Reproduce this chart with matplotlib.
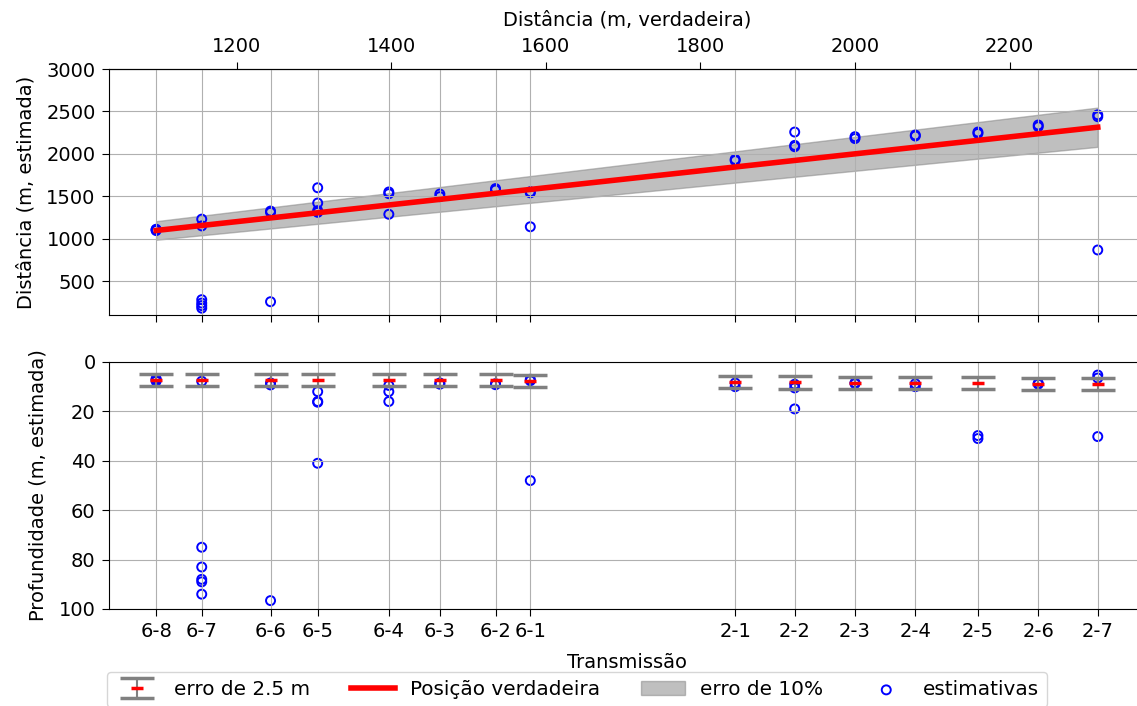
import numpy as np
import matplotlib
matplotlib.use("Agg")
import matplotlib.pyplot as plt

plt.rcParams['font.size'] = 14
plt.rcParams['xtick.major.size'] = 4.7
plt.rcParams['ytick.major.size'] = 4.7
plt.rcParams['xtick.major.pad'] = 5
plt.rcParams['ytick.major.pad'] = 5
plt.rcParams['axes.labelpad'] = 8

# transmissoes e distancias verdadeiras (m)
transmissoes = ['6-8', '6-7', '6-6', '6-5', '6-4', '6-3', '6-2', '6-1',
                '2-1', '2-2', '2-3', '2-4', '2-5', '2-6', '2-7']
dist_verdadeira = [1096, 1155, 1244, 1305, 1397, 1463, 1535, 1580,
                   1845, 1922, 2000, 2078, 2159, 2237, 2314]
prof_verdadeira = [7.3, 7.3, 7.3, 7.3, 7.3, 7.3, 7.3, 7.6,
                   8.2, 8.3, 8.5, 8.5, 8.5, 8.8, 9.0]
ticks_topo = [1200, 1400, 1600, 1800, 2000, 2200]

# estimativas por transmissao (distancia, profundidade)
est_dist = [
    [1095, 1105, 1110],
    [1230, 1150, 280, 240, 210, 180],
    [1310, 1325, 256],
    [1600, 1420, 1330, 1310],
    [1530, 1550, 1287],
    [1526, 1495],
    [1573, 1590],
    [1553, 1540, 1140],
    [1935, 1920],
    [2257, 2084, 2100],
    [2202, 2180],
    [2222, 2210],
    [2257, 2240],
    [2340, 2320],
    [2438, 2460, 866],
]
est_prof = [
    [6.8, 7.2, 7.8],
    [7.8, 75.0, 83.0, 88.0, 89.0, 94.0],
    [8.5, 9.3, 96.6],
    [12.0, 16.0, 16.3, 41.0],
    [9.5, 12.0, 16.0],
    [8.5, 9.0],
    [9.2, 8.8],
    [7.0, 7.6, 48.0],
    [8.5, 10.0],
    [19.0, 9.0, 10.5],
    [8.4, 8.8],
    [8.8, 10.0],
    [29.8, 31.0],
    [8.6, 9.0],
    [5.3, 6.5, 30.2],
]

xs, ys_d, ys_p = [], [], []
for d, dl, pl in zip(dist_verdadeira, est_dist, est_prof):
    xs += [d] * len(dl)
    ys_d += dl
    ys_p += pl

dv = np.array(dist_verdadeira)

fig = plt.figure(figsize=(11.37, 7.06), dpi=100)
ax1 = fig.add_axes([0.0959, 0.5538, 0.911, 0.3484])
ax2 = fig.add_axes([0.0959, 0.1374, 0.911, 0.3499], sharex=ax1)

# distancia
band = ax1.fill_between(dv, 0.9 * dv, 1.1 * dv, color='gray', alpha=0.5, label='erro de 10%')
line, = ax1.plot(dv, dv, color='red', lw=4, label='Posição verdadeira')
sc = ax1.scatter(xs, ys_d, s=42, facecolors='none', edgecolors='b', linewidths=1.4,
                 label='estimativas')
ax1.set_ylim(99, 3000)
ax1.set_ylabel('Distância (m, estimada)')
ax1.grid(True)
ax1.tick_params(labelbottom=False)

sec = ax1.secondary_xaxis('top')
sec.set_xticks(ticks_topo)
sec.set_xlabel('Distância (m, verdadeira)')

# profundidade
eb = ax2.errorbar(dv, prof_verdadeira, yerr=2.5, fmt='_', color='red', ms=8, mew=2.5,
                  ecolor='gray', elinewidth=1.5, capsize=12, capthick=3,
                  label='erro de 2.5 m')
ax2.scatter(xs, ys_p, s=42, facecolors='none', edgecolors='b', linewidths=1.4)
ax2.set_ylim(100, 0)
ax2.set_ylabel('Profundidade (m, estimada)')
ax2.set_xlabel('Transmissão')
ax2.set_xticks(dv)
ax2.set_xticklabels(transmissoes)
ax2.grid(True)

fig.legend([eb, line, band, sc],
           ['erro de 2.5 m', 'Posição verdadeira', 'erro de 10%', 'estimativas'],
           ncol=4, loc='upper left', bbox_to_anchor=(0.094, 0.048),
           bbox_transform=fig.transFigure, borderaxespad=0, fontsize=14.4,
           handlelength=2.2, handletextpad=0.75, columnspacing=2.05)

fig.savefig('out.png', dpi=100)
